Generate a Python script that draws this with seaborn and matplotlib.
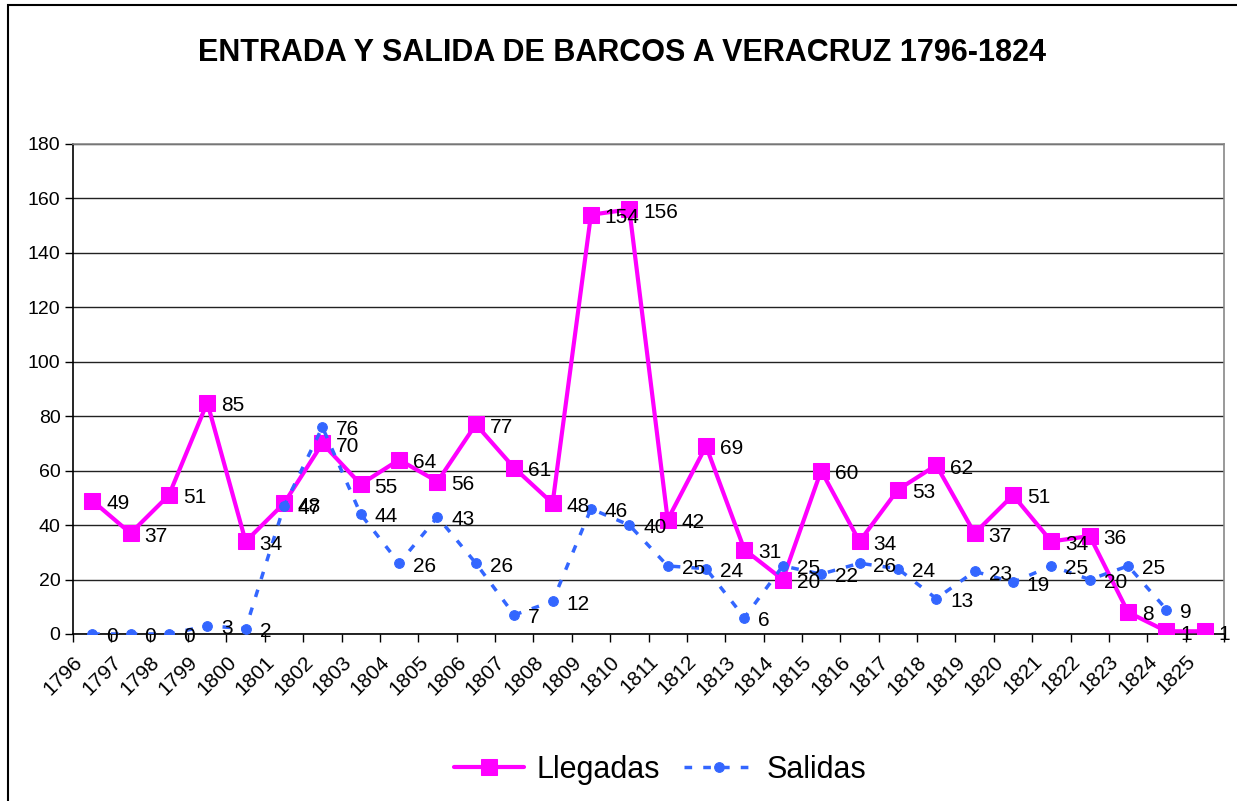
import numpy as np
import pandas as pd
import seaborn as sns
import matplotlib.pyplot as plt
from matplotlib.patches import Rectangle

# data
years = [str(y) for y in range(1796, 1826)]
llegadas = [49, 37, 51, 85, 34, 48, 70, 55, 64, 56,
            77, 61, 48, 154, 156, 42, 69, 31, 20, 60,
            34, 53, 62, 37, 51, 34, 36, 8, 1, 1]
salidas = [0, 0, 0, 3, 2, 47, 76, 44, 26, 43,
           26, 7, 12, 46, 40, 25, 24, 6, 25, 22,
           26, 24, 13, 23, 19, 25, 20, 25, 9, np.nan]

sns.set_style("white")
plt.rcParams['font.family'] = ['Liberation Sans', 'DejaVu Sans']
plt.rcParams['text.color'] = 'black'
plt.rcParams['xtick.color'] = 'black'
plt.rcParams['ytick.color'] = 'black'

x = np.arange(len(years)) + 0.5
df = pd.DataFrame({'x': x, 'Llegadas': llegadas, 'Salidas': salidas})

fig = plt.figure(figsize=(12.37, 8.01), dpi=100)
ax = fig.add_axes([73 / 1237, 1 - 634 / 801, 1151 / 1237, 490 / 801])

sns.lineplot(data=df, x='x', y='Llegadas', ax=ax, color='#FF00FF', linewidth=3,
             marker='s', markersize=12, markeredgecolor='#FF00FF', label='Llegadas', zorder=3)
sns.lineplot(data=df, x='x', y='Salidas', ax=ax, color='#3366FF', linewidth=2.5,
             marker='o', markersize=7, markeredgecolor='#3366FF', label='Salidas', zorder=4)
ax.lines[-1].set_dashes((2.2, 3.2))

# data labels
for xi, v in zip(x, llegadas):
    ax.annotate(f"{v:g}", (xi, v), xytext=(10, -2), textcoords='offset points',
                ha='left', va='center', fontsize=15, zorder=5)
for xi, v in zip(x, salidas):
    if not np.isnan(v):
        ax.annotate(f"{v:g}", (xi, v), xytext=(10, -2), textcoords='offset points',
                    ha='left', va='center', fontsize=15, zorder=5)

ax.set_xlim(0, 30)
ax.set_ylim(0, 180)
ax.set_yticks(range(0, 181, 20))
ax.set_xticks(range(0, 31))
ax.set_xticklabels(years + [''], rotation=45, ha='right', rotation_mode='anchor')
ax.tick_params(axis='x', labelsize=15, direction='out', length=6, width=1, bottom=True, pad=7)
ax.tick_params(axis='y', labelsize=14, direction='out', length=6, width=1, left=True, pad=3)
ax.grid(axis='y', color='#222222', linewidth=1)
ax.set_xlabel('')
ax.set_ylabel('')

for side in ['left', 'bottom']:
    ax.spines[side].set_color('black')
    ax.spines[side].set_linewidth(1.2)
for side in ['top', 'right']:
    ax.spines[side].set_color('#888888')
    ax.spines[side].set_linewidth(1.2)

fig.suptitle("ENTRADA Y SALIDA DE BARCOS A VERACRUZ 1796-1824", x=0.503, y=1 - 53 / 801,
             va='center', fontsize=22, fontweight='bold')

ax.legend(loc='center', bbox_to_anchor=(0.51, (634 - 770) / 490), ncol=2, frameon=False,
          fontsize=22, handlelength=2.3, columnspacing=0.8, handletextpad=0.4)

fig.add_artist(Rectangle((8 / 1237, -0.1), 1.2, 1.1 - 5 / 801, transform=fig.transFigure,
                         fill=False, edgecolor='black', linewidth=1.5))

fig.savefig('out.png', dpi=100)
